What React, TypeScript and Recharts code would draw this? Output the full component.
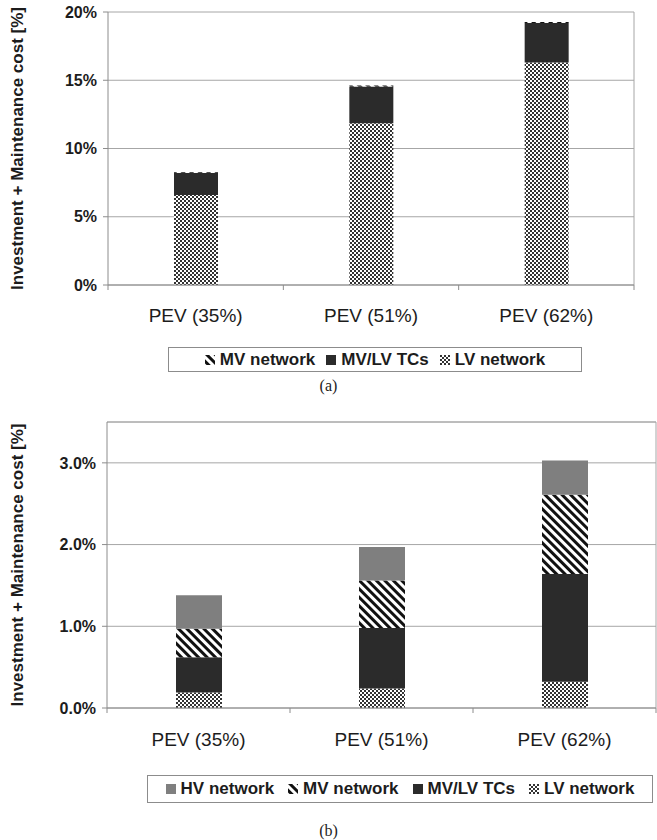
import React from "react";
import { BarChart, Bar, XAxis, YAxis, CartesianGrid, Legend, ReferenceLine } from "recharts";

// categories shared by both panels
const categories = ["PEV (35%)", "PEV (51%)", "PEV (62%)"];

// panel (a) values, % of cost
const lvNetworkA = [6.6, 11.85, 16.3];
const tcA = [1.6, 2.7, 2.9];
const mvNetworkA = [0.06, 0.06, 0.06];
const ticksA = [0, 5, 10, 15, 20];
const legendOrderA = ["MV network", "MV/LV TCs", "LV network"];

// panel (b) values, % of cost
const lvNetworkB = [0.19, 0.24, 0.32];
const tcB = [0.43, 0.74, 1.32];
const mvNetworkB = [0.35, 0.58, 0.97];
const hvNetworkB = [0.41, 0.41, 0.42];
const ticksB = [0, 1, 2, 3];
const legendOrderB = ["HV network", "MV network", "MV/LV TCs", "LV network"];

const dataA = categories.map((name, i) => ({
  name,
  lv: lvNetworkA[i],
  tc: tcA[i],
  mv: mvNetworkA[i],
}));

const dataB = categories.map((name, i) => ({
  name,
  lv: lvNetworkB[i],
  tc: tcB[i],
  mv: mvNetworkB[i],
  hv: hvNetworkB[i],
}));

const FONT = "Arial, 'Liberation Sans', Helvetica, sans-serif";
const TEXT = "#1c1c1c";
const LINE = "#8c8c8c";

// x tick with Excel-like boundary tick marks
const makeXTick = (band: number, dy: number) => (props: any) => {
  const { x, y, payload, index } = props;
  return (
    <g>
      <line x1={x - band / 2} x2={x - band / 2} y1={y} y2={y + 5} stroke={LINE} />
      {index === categories.length - 1 && (
        <line x1={x + band / 2} x2={x + band / 2} y1={y} y2={y + 5} stroke={LINE} />
      )}
      <text
        x={x}
        y={y + dy}
        textAnchor="middle"
        dominantBaseline="central"
        fontFamily={FONT}
        fontSize={19}
        fill={TEXT}
      >
        {payload.value}
      </text>
    </g>
  );
};

const yTitle = (props: any) => {
  const { viewBox } = props;
  const cy = viewBox.y + viewBox.height / 2;
  return (
    <text
      x={17}
      y={cy}
      transform={`rotate(-90, 17, ${cy})`}
      textAnchor="middle"
      dominantBaseline="central"
      fontFamily={FONT}
      fontSize={17}
      fontWeight="bold"
      fill={TEXT}
    >
      Investment + Maintenance cost [%]
    </text>
  );
};

const makeLegend = (
  order: string[],
  left: number,
  width: number,
  top: number,
  boxH: number,
  height: number,
  gap: number
) => (props: any) => {
  const items = [...(props.payload || [])].sort(
    (a: any, b: any) => order.indexOf(a.value) - order.indexOf(b.value)
  );
  return (
    <div style={{ position: "relative", height }}>
      <div
        style={{
          position: "absolute",
          left,
          top,
          width,
          height: boxH,
          boxSizing: "border-box",
          border: `1px solid ${LINE}`,
          display: "flex",
          alignItems: "center",
          justifyContent: "center",
          gap,
          fontFamily: FONT,
          fontSize: 17,
          fontWeight: "bold",
          color: TEXT,
          whiteSpace: "nowrap",
        }}
      >
        {items.map((it: any) => (
          <span key={it.value} style={{ display: "flex", alignItems: "center" }}>
            <svg width={10} height={10} style={{ marginRight: 5 }}>
              <rect width={10} height={10} fill={it.color} />
            </svg>
            {it.value}
          </span>
        ))}
      </div>
    </div>
  );
};

export default function App() {
  const bandA = (657 - 108 - 23) / 3;
  const bandB = (657 - 107 - 1) / 3;
  return (
    <div style={{ position: "absolute", left: 0, top: 0, width: 657, height: 840, background: "#fff" }}>
      <svg width={0} height={0} style={{ position: "absolute" }}>
        <defs>
          <pattern id="checker" width="4" height="4" patternUnits="userSpaceOnUse">
            <rect width="4" height="4" fill="#ffffff" />
            <rect width="2" height="2" fill="#333333" />
            <rect x="2" y="2" width="2" height="2" fill="#333333" />
          </pattern>
          <pattern id="stripes" width="6" height="6" patternUnits="userSpaceOnUse" patternTransform="rotate(-45)">
            <rect width="6" height="6" fill="#ffffff" />
            <rect width="3" height="6" fill="#111111" />
          </pattern>
        </defs>
      </svg>

      {/* panel (a) */}
      <div style={{ position: "absolute", left: 0, top: 0 }}>
        <BarChart width={657} height={376} data={dataA} margin={{ top: 12, right: 23, left: 0, bottom: 0 }}>
          <CartesianGrid
            stroke="#a6a6a6"
            verticalCoordinatesGenerator={({ offset }: any) => [offset.left + offset.width]}
          />
          <XAxis
            dataKey="name"
            height={50}
            axisLine={{ stroke: LINE }}
            tickLine={false}
            tickSize={0}
            tickMargin={0}
            tick={makeXTick(bandA, 30)}
            interval={0}
          />
          <YAxis
            width={108}
            domain={[0, 20]}
            ticks={ticksA}
            tickFormatter={(v: number) => `${v}%`}
            axisLine={{ stroke: LINE }}
            tickLine={{ stroke: LINE }}
            tickSize={5}
            tickMargin={6}
            tick={{ fontFamily: FONT, fontSize: 16, fontWeight: "bold", fill: TEXT }}
            label={{ content: yTitle }}
          />
          <Legend
            verticalAlign="bottom"
            wrapperStyle={{ left: 0, width: 657 }}
            content={makeLegend(legendOrderA, 168, 414, 12, 25, 41, 11)}
          />
          <Bar dataKey="lv" name="LV network" stackId="a" fill="url(#checker)" barSize={44} isAnimationActive={false} />
          <Bar dataKey="tc" name="MV/LV TCs" stackId="a" fill="#2b2b2b" barSize={44} isAnimationActive={false} />
          <Bar dataKey="mv" name="MV network" stackId="a" fill="url(#stripes)" barSize={44} isAnimationActive={false} />
        </BarChart>
      </div>
      <div
        style={{
          position: "absolute",
          left: 0,
          width: 657,
          top: 377,
          textAlign: "center",
          fontFamily: "'Liberation Serif', 'DejaVu Serif', serif",
          fontSize: 16,
          color: TEXT,
        }}
      >
        (a)
      </div>

      {/* panel (b) */}
      <div style={{ position: "absolute", left: 0, top: 410 }}>
        <BarChart width={657} height={402} data={dataB} margin={{ top: 12, right: 1, left: 0, bottom: 0 }}>
          <CartesianGrid
            stroke="#a6a6a6"
            verticalCoordinatesGenerator={({ offset }: any) => [offset.left + offset.width]}
          />
          <ReferenceLine y={3.5} stroke="#a6a6a6" />
          <XAxis
            dataKey="name"
            height={60}
            axisLine={{ stroke: LINE }}
            tickLine={false}
            tickSize={0}
            tickMargin={0}
            tick={makeXTick(bandB, 31)}
            interval={0}
          />
          <YAxis
            width={107}
            domain={[0, 3.5]}
            ticks={ticksB}
            tickFormatter={(v: number) => `${v.toFixed(1)}%`}
            axisLine={{ stroke: LINE }}
            tickLine={{ stroke: LINE }}
            tickSize={5}
            tickMargin={6}
            tick={{ fontFamily: FONT, fontSize: 16, fontWeight: "bold", fill: TEXT }}
            label={{ content: yTitle }}
          />
          <Legend
            verticalAlign="bottom"
            wrapperStyle={{ left: 0, width: 657 }}
            content={makeLegend(legendOrderB, 147, 506, 7, 28, 44, 14)}
          />
          <Bar dataKey="lv" name="LV network" stackId="b" fill="url(#checker)" barSize={46} isAnimationActive={false} />
          <Bar dataKey="tc" name="MV/LV TCs" stackId="b" fill="#2b2b2b" barSize={46} isAnimationActive={false} />
          <Bar dataKey="mv" name="MV network" stackId="b" fill="url(#stripes)" barSize={46} isAnimationActive={false} />
          <Bar dataKey="hv" name="HV network" stackId="b" fill="#7f7f7f" barSize={46} isAnimationActive={false} />
        </BarChart>
      </div>
      <div
        style={{
          position: "absolute",
          left: 0,
          width: 657,
          top: 822,
          textAlign: "center",
          fontFamily: "'Liberation Serif', 'DejaVu Serif', serif",
          fontSize: 16,
          color: TEXT,
        }}
      >
        (b)
      </div>
    </div>
  );
}
